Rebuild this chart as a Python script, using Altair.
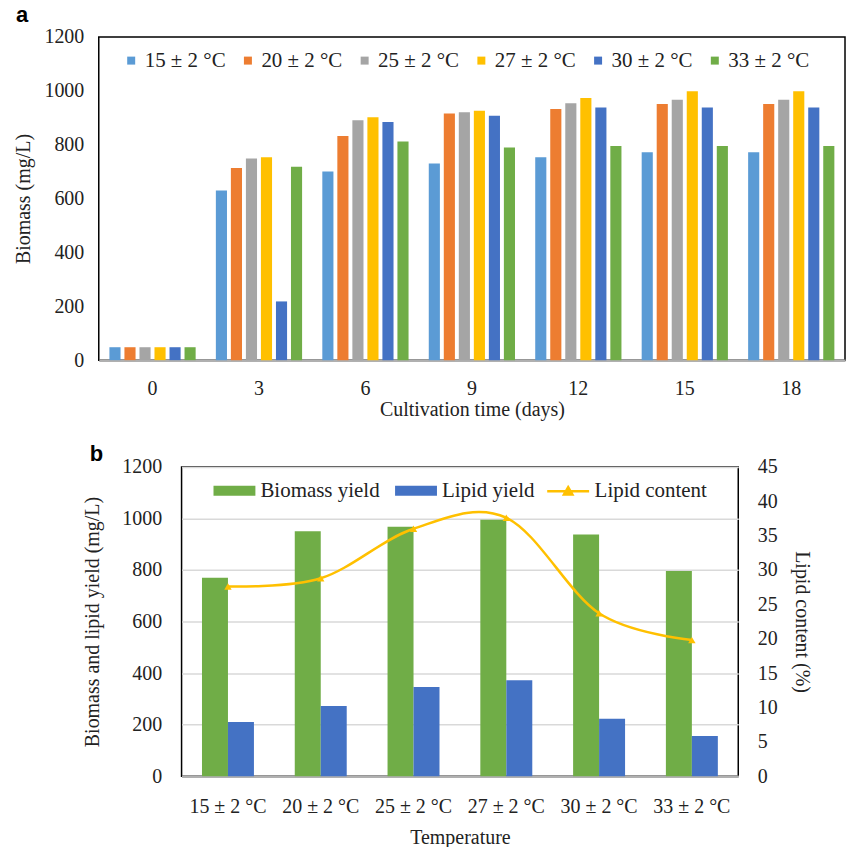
import altair as alt
import pandas as pd

# ---------------- data: panel a ----------------
days = ["0", "3", "6", "9", "12", "15", "18"]
temps = ["15 ± 2 °C", "20 ± 2 °C", "25 ± 2 °C", "27 ± 2 °C", "30 ± 2 °C", "33 ± 2 °C"]
biomass_15 = [48, 630, 700, 730, 753, 772, 772]
biomass_20 = [48, 713, 832, 916, 932, 951, 951]
biomass_25 = [48, 749, 891, 920, 954, 967, 967]
biomass_27 = [48, 753, 902, 926, 973, 998, 998]
biomass_30 = [48, 218, 884, 907, 938, 938, 938]
biomass_33 = [48, 718, 812, 789, 795, 795, 795]
colors_a = ["#5B9BD5", "#ED7D31", "#A5A5A5", "#FFC000", "#4472C4", "#70AD47"]

# ---------------- data: panel b ----------------
series_b = ["Biomass yield", "Lipid yield"]
biomass_yield = [770, 950, 968, 995, 938, 796]
lipid_yield = [210, 272, 346, 372, 223, 156]
lipid_content = [27.6, 28.8, 36.0, 37.6, 23.7, 19.8]
colors_b = ["#70AD47", "#4472C4"]
line_color = "#FFC000"

FONT = "Liberation Serif"
TXT = "#222222"

series_a = [biomass_15, biomass_20, biomass_25, biomass_27, biomass_30, biomass_33]
rows = []
for t, vals in zip(temps, series_a):
    for d, v in zip(days, vals):
        rows.append({"day": d, "temp": t, "biomass": v})
df_a = pd.DataFrame(rows)

chart_a = alt.Chart(df_a).mark_bar().encode(
    x=alt.X("day:N", sort=days,
            scale=alt.Scale(paddingInner=0.19, paddingOuter=0.1),
            axis=alt.Axis(title="Cultivation time (days)", labelAngle=0, ticks=False,
                          labelPadding=18, titlePadding=1, domainColor="#b0b0b0",
                          domainWidth=2.5)),
    xOffset=alt.XOffset("temp:N", sort=temps, scale=alt.Scale(paddingInner=0.26)),
    y=alt.Y("biomass:Q", scale=alt.Scale(domain=[0, 1200]),
            axis=alt.Axis(values=[0, 200, 400, 600, 800, 1000, 1200], title="Biomass (mg/L)",
                          format="d", grid=False, domain=False, ticks=False, labelPadding=15,
                          titlePadding=10)),
    color=alt.Color("temp:N", sort=temps,
                    scale=alt.Scale(domain=temps, range=colors_a),
                    legend=alt.Legend(title=None, orient="none", legendX=112, legendY=13,
                                      direction="horizontal", symbolType="square",
                                      symbolSize=64, columnPadding=11, labelOffset=3,
                                      labelFontSize=21, labelFont=FONT, labelColor=TXT,
                                      padding=0)),
).properties(
    width=748, height=324,
    title=alt.TitleParams("a", anchor="start", frame="group", dx=-83, font="Liberation Sans",
                          fontWeight="bold", fontSize=22, offset=0, color="#000"),
)

df_b = pd.DataFrame({
    "temp": temps * 2,
    "series": [series_b[0]] * 6 + [series_b[1]] * 6,
    "value": biomass_yield + lipid_yield,
})
df_c = pd.DataFrame({"temp": temps, "series": ["Lipid content"] * 6, "content": lipid_content})

xb = alt.X("temp:N", sort=temps,
           scale=alt.Scale(paddingInner=0.44, paddingOuter=0.22),
           axis=alt.Axis(title="Temperature", labelAngle=0, ticks=False, labelPadding=20,
                         titlePadding=11, domainColor="#b0b0b0", domainWidth=2.5))

bars_b = alt.Chart(df_b).mark_bar().encode(
    x=xb,
    xOffset=alt.XOffset("series:N", sort=series_b),
    y=alt.Y("value:Q", scale=alt.Scale(domain=[0, 1200]),
            axis=alt.Axis(values=[0, 200, 400, 600, 800, 1000, 1200], format="d",
                          title="Biomass and lipid yield (mg/L)", grid=True,
                          gridColor="#d9d9d9", gridWidth=1.5, domain=False, ticks=False,
                          labelPadding=20, titlePadding=19)),
    color=alt.Color("series:N", sort=series_b,
                    scale=alt.Scale(domain=series_b, range=colors_b),
                    legend=alt.Legend(title=None, orient="none", legendX=204, legendY=2,
                                      direction="horizontal",
                                      symbolType="M-1,-0.24H1V0.24H-1Z", symbolSize=1764,
                                      columnPadding=14, labelOffset=4,
                                      labelFontSize=21, labelFont=FONT, labelColor=TXT,
                                      padding=0)),
)

line_b = alt.Chart(df_c).mark_line(interpolate="cardinal", tension=0, strokeWidth=2.5).encode(
    x=xb,
    y=alt.Y("content:Q", scale=alt.Scale(domain=[0, 45]),
            axis=alt.Axis(orient="right", values=list(range(0, 50, 5)),
                          title="Lipid content (%)", grid=False, domain=False, ticks=False,
                          labelPadding=19, titlePadding=14)),
    stroke=alt.Stroke("series:N", scale=alt.Scale(domain=["Lipid content"], range=[line_color]),
                      legend=alt.Legend(title=None, orient="none", legendX=538, legendY=2,
                                        symbolType="M-1,0H1M0,-0.2L0.2,0.15L-0.2,0.15Z",
                                        symbolSize=1764, symbolStrokeWidth=2.5,
                                        symbolFillColor=line_color, labelOffset=4,
                                        labelFontSize=21, labelFont=FONT, labelColor=TXT,
                                        padding=0)),
)

points_b = alt.Chart(df_c).mark_point(shape="triangle-up", filled=True, size=55,
                                      color=line_color, opacity=1).encode(
    x=xb,
    y=alt.Y("content:Q", scale=alt.Scale(domain=[0, 45]), axis=None),
)

chart_b = alt.layer(bars_b, line_b, points_b).resolve_scale(y="independent").properties(
    width=558, height=310,
    title=alt.TitleParams("b", anchor="start", frame="group", dx=-92, font="Liberation Sans",
                          fontWeight="bold", fontSize=22, offset=-9, color="#000"),
)


def spacer(w):
    return alt.Chart(pd.DataFrame({"v": [0]})).mark_point(opacity=0).encode(
        x=alt.value(0), y=alt.value(0)
    ).properties(width=w, height=1, view=alt.ViewBackground(stroke="transparent"))


chart = alt.vconcat(
    alt.hconcat(spacer(1), chart_a, spacing=0),
    alt.hconcat(spacer(72), chart_b, spacing=0),
    spacing=22,
).resolve_scale(
    x="independent", y="independent", color="independent",
    xOffset="independent", stroke="independent",
).properties(
    padding={"left": 5, "top": 2, "right": 2, "bottom": 0},
).configure_view(
    stroke="#000000", strokeWidth=1.5,
).configure_axis(
    labelFont=FONT, titleFont=FONT, labelFontSize=20, titleFontSize=20,
    labelColor=TXT, titleColor=TXT, titleFontWeight="normal",
).configure_legend(
    labelFont=FONT,
)

chart.save("out.html", embed_options={"renderer": "svg", "actions": False})
